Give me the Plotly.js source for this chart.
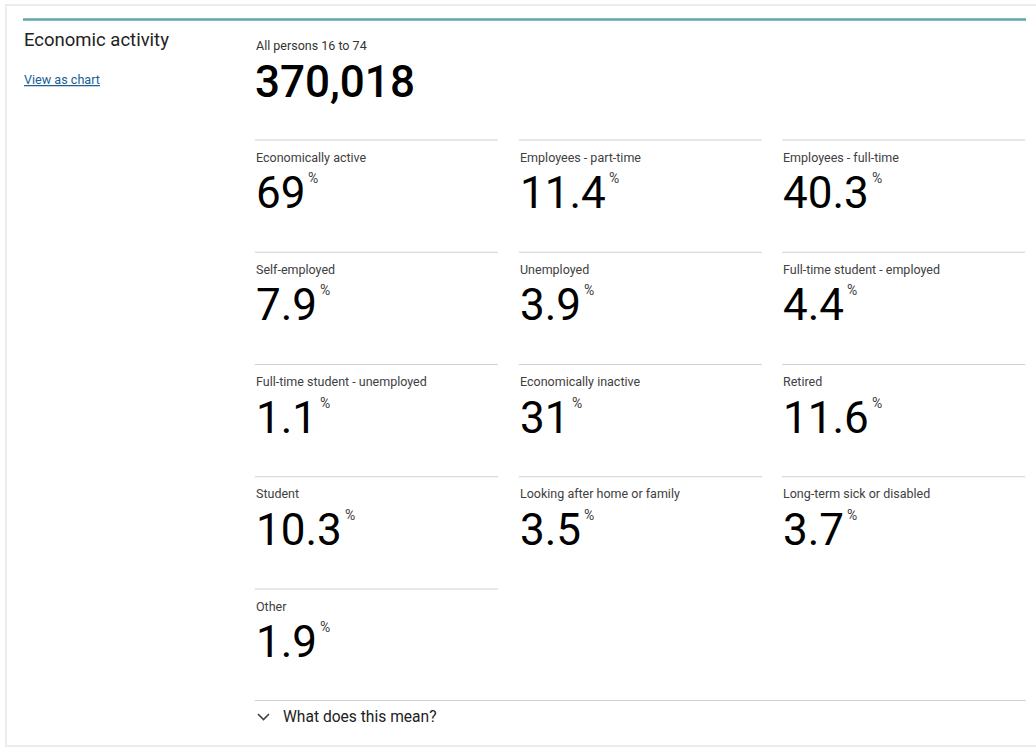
<!DOCTYPE html>
<html><head><meta charset="utf-8">
<script src="https://cdn.plot.ly/plotly-3.0.1.min.js"></script>
<style>html,body{margin:0;padding:0;background:#fff;}#chart{width:1036px;height:747px;}</style>
</head><body><div id="chart"></div>
<script>
// ---- data ----
const sectionTitle = "Economic activity";
const linkText = "View as chart";
const totalLabel = "All persons 16 to 74";
const totalValue = 370018;
const categories = [
  "Economically active", "Employees - part-time", "Employees - full-time",
  "Self-employed", "Unemployed", "Full-time student - employed",
  "Full-time student - unemployed", "Economically inactive", "Retired",
  "Student", "Looking after home or family", "Long-term sick or disabled",
  "Other"
];
const percentages = [69, 11.4, 40.3, 7.9, 3.9, 4.4, 1.1, 31, 11.6, 10.3, 3.5, 3.7, 1.9];
const unitLabel = "%";
const footerText = "What does this mean?";

// ---- layout constants ----
const W = 1036, H = 747;
const colX = [255, 519, 782];
const colW = 243;
const rowY0 = 140, rowStep = 112.25;
const numFont = "Roboto";
const numSize = 44;
const cardWeight = 400;

const cv = document.createElement("canvas").getContext("2d");
function textW(s, size, weight) { cv.font = weight + " " + size + "px Roboto"; return cv.measureText(s).width; }

const shapes = [];
const annotations = [];

// outer panel
shapes.push({type:"rect", xref:"x", yref:"y", x0:6, y0:5, x1:W+10, y1:746, line:{color:"#ececec", width:2}, fillcolor:"rgba(0,0,0,0)", layer:"below"});
// teal top rule
shapes.push({type:"line", xref:"x", yref:"y", x0:23, x1:1026, y0:19.5, y1:19.5, line:{color:"#5fa4ae", width:2.5}});

annotations.push({xref:"x", yref:"y", x:23, y:40, xanchor:"left", yanchor:"middle", showarrow:false, borderpad:0,
  text:sectionTitle, font:{family:numFont, size:18.5, color:"#222222", weight:400}});
annotations.push({xref:"x", yref:"y", x:23, y:79, xanchor:"left", yanchor:"middle", showarrow:false, borderpad:0,
  text:"<u>"+linkText+"</u>", font:{family:numFont, size:12.6, color:"#206095"}});

annotations.push({xref:"x", yref:"y", x:255, y:45, xanchor:"left", yanchor:"middle", showarrow:false, borderpad:0,
  text:totalLabel, font:{family:numFont, size:12.5, color:"#333333"}});
annotations.push({xref:"x", yref:"y", x:254, y:82, xanchor:"left", yanchor:"middle", showarrow:false, borderpad:0,
  text:totalValue.toLocaleString("en-GB"), font:{family:numFont, size:numSize, color:"#000000", weight:500}});

categories.forEach((cat, i) => {
  const c = i % 3, r = Math.floor(i / 3);
  const x = colX[c], y = rowY0 + r * rowStep;
  shapes.push({type:"line", xref:"x", yref:"y", x0:x, x1:x+colW, y0:y, y1:y, line:{color:"#d0d0d0", width:1}});
  annotations.push({xref:"x", yref:"y", x:x, y:y+17, xanchor:"left", yanchor:"middle", showarrow:false, borderpad:0,
    text:cat, font:{family:numFont, size:12.5, color:"#414042"}});
  const valStr = String(percentages[i]);
  annotations.push({xref:"x", yref:"y", x:x, y:y+53, xanchor:"left", yanchor:"middle", showarrow:false, borderpad:0,
    text:valStr, font:{family:numFont, size:numSize, color:"#000000", weight:cardWeight}});
  const vw = textW(valStr, numSize, cardWeight);
  annotations.push({xref:"x", yref:"y", x:x + vw + 3, y:y+38, xanchor:"left", yanchor:"middle", showarrow:false, borderpad:0,
    text:unitLabel, font:{family:numFont, size:14, color:"#414042"}});
});

// footer
shapes.push({type:"line", xref:"x", yref:"y", x0:255, x1:1026, y0:700.5, y1:700.5, line:{color:"#d0d0d0", width:1}});
shapes.push({type:"path", xref:"x", yref:"y", path:"M 258 714 L 263.5 719.5 L 269 714", line:{color:"#414042", width:1.6}});
annotations.push({xref:"x", yref:"y", x:282, y:717, xanchor:"left", yanchor:"middle", showarrow:false, borderpad:0,
  text:footerText, font:{family:numFont, size:15.6, color:"#222222"}});

const layout = {
  width:W, height:H, margin:{l:0,r:0,t:0,b:0}, paper_bgcolor:"#ffffff", plot_bgcolor:"#ffffff",
  xaxis:{range:[0,W], visible:false, fixedrange:true},
  yaxis:{range:[H,0], visible:false, fixedrange:true},
  showlegend:false, shapes:shapes, annotations:annotations
};
Plotly.newPlot("chart", [{type:"scatter", x:[], y:[], hoverinfo:"skip"}], layout, {displayModeBar:false, staticPlot:true});
</script></body></html>
